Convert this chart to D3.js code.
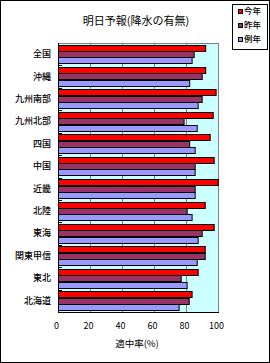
<!DOCTYPE html>
<html><head><meta charset="utf-8">
<script src="https://cdn.jsdelivr.net/npm/d3@7"></script>
<style>
html,body{margin:0;padding:0;background:#fff;}
svg{display:block;}
text{font-family:"Noto Sans CJK JP","Noto Sans",sans-serif;fill:#000;}
</style></head>
<body>
<script>
const categories = ["全国","沖縄","九州南部","九州北部","四国","中国","近畿","北陸","東海","関東甲信","東北","北海道"];
const seriesNames = ["今年","昨年","例年"];
const seriesColors = ["#FF0000","#993366","#9999FF"];
const thisYear = [92, 92, 98.5, 96.7, 94.8, 97.3, 99.8, 91.7, 97.3, 91.7, 87.3, 83.5];
const lastYear = [84.8, 89.8, 89.8, 78.5, 82, 85.4, 85.4, 80.4, 89.8, 91.7, 76.7, 81.7];
const normalYear = [83.5, 82, 87.3, 86.7, 85.4, 85.4, 85.4, 83.5, 87.3, 86.7, 80.4, 75.4];
const xTicks = [0, 20, 40, 60, 80, 100];
const title = "明日予報(降水の有無)";
const xTitle = "適中率(%)";

const W = 270, H = 363;
const svg = d3.select("body").append("svg").attr("width", W).attr("height", H);

// outer frame
svg.append("rect").attr("x",0.5).attr("y",0.5).attr("width",W-1).attr("height",H-1)
  .attr("fill","#fff").attr("stroke","#000");

const plot = {l:58, r:218, t:43, b:312};
const x = d3.scaleLinear().domain([0,100]).range([plot.l, plot.r]);
const y = d3.scaleBand().domain(categories).range([plot.t, plot.b]).paddingInner(0).paddingOuter(0);
const yInner = d3.scaleBand().domain(seriesNames).range([0, y.bandwidth()]).paddingInner(0).paddingOuter(0.25);

// plot background
svg.append("rect").attr("x",plot.l).attr("y",plot.t).attr("width",plot.r-plot.l).attr("height",plot.b-plot.t)
  .attr("fill","#CCFFFF").attr("stroke","#808080").attr("stroke-width",1)
  .attr("transform","translate(0.5,0.5)");

// gridlines
svg.append("g").selectAll("line").data(xTicks.filter(d=>d>0 && d<100)).join("line")
  .attr("x1",d=>Math.round(x(d))+0.5).attr("x2",d=>Math.round(x(d))+0.5)
  .attr("y1",plot.t).attr("y2",plot.b).attr("stroke","#808080");

// bars
const seriesData = [thisYear, lastYear, normalYear];
const rows = [];
categories.forEach((c,i)=>{
  seriesNames.forEach((s,j)=>{ rows.push({c, s, j, v: seriesData[j][i]}); });
});
svg.append("g").selectAll("rect").data(rows).join("rect")
  .attr("x", x(0)+0.5)
  .attr("y", d => Math.round(y(d.c) + yInner(d.s)) + 0.5)
  .attr("width", d => x(d.v) - x(0))
  .attr("height", Math.round(yInner.bandwidth()))
  .attr("fill", d => seriesColors[d.j])
  .attr("stroke", "#000").attr("stroke-width", 1);

// category axis line + inward ticks
svg.append("line").attr("x1",plot.l+0.5).attr("x2",plot.l+0.5).attr("y1",plot.t).attr("y2",plot.b+1).attr("stroke","#000");
svg.append("g").selectAll("line").data(categories.slice(1)).join("line")
  .attr("x1",plot.l).attr("x2",plot.l+4)
  .attr("y1",d=>Math.round(y(d))+0.5).attr("y2",d=>Math.round(y(d))+0.5).attr("stroke","#000");
// value axis line
svg.append("line").attr("x1",plot.l).attr("x2",plot.r+1).attr("y1",plot.b+0.5).attr("y2",plot.b+0.5).attr("stroke","#000");

// category labels
svg.append("g").selectAll("text").data(categories).join("text")
  .attr("x", 51).attr("y", d => y(d) + y.bandwidth()/2 + 0.5)
  .attr("text-anchor","end").attr("dominant-baseline","middle")
  .attr("font-size", 9).attr("font-weight", 500).text(d=>d);

// x tick labels
svg.append("g").selectAll("text").data(xTicks).join("text")
  .attr("x", d => x(d) - 1.5).attr("y", 329)
  .attr("text-anchor","middle").attr("font-size", 9).text(d=>d);

// titles
svg.append("text").attr("x",136).attr("y",24.5).attr("text-anchor","middle").attr("font-size",11).text(title);
svg.append("text").attr("x",137).attr("y",347).attr("text-anchor","middle").attr("font-size",9.5).text(xTitle);

// legend
const lg = svg.append("g");
lg.append("rect").attr("x",232.5).attr("y",4.5).attr("width",35).attr("height",45).attr("fill","#fff").attr("stroke","#000");
const li = lg.selectAll("g").data(seriesNames).join("g")
  .attr("transform",(d,i)=>`translate(0,${12 + i*14})`);
li.append("rect").attr("x",238.5).attr("y",-2.5).attr("width",4).attr("height",4)
  .attr("fill",(d,i)=>seriesColors[i]).attr("stroke","#000");
li.append("text").attr("x",244).attr("y",0).attr("dominant-baseline","middle").attr("font-size",8.5).attr("font-weight",500).text(d=>d);
</script>
</body></html>
